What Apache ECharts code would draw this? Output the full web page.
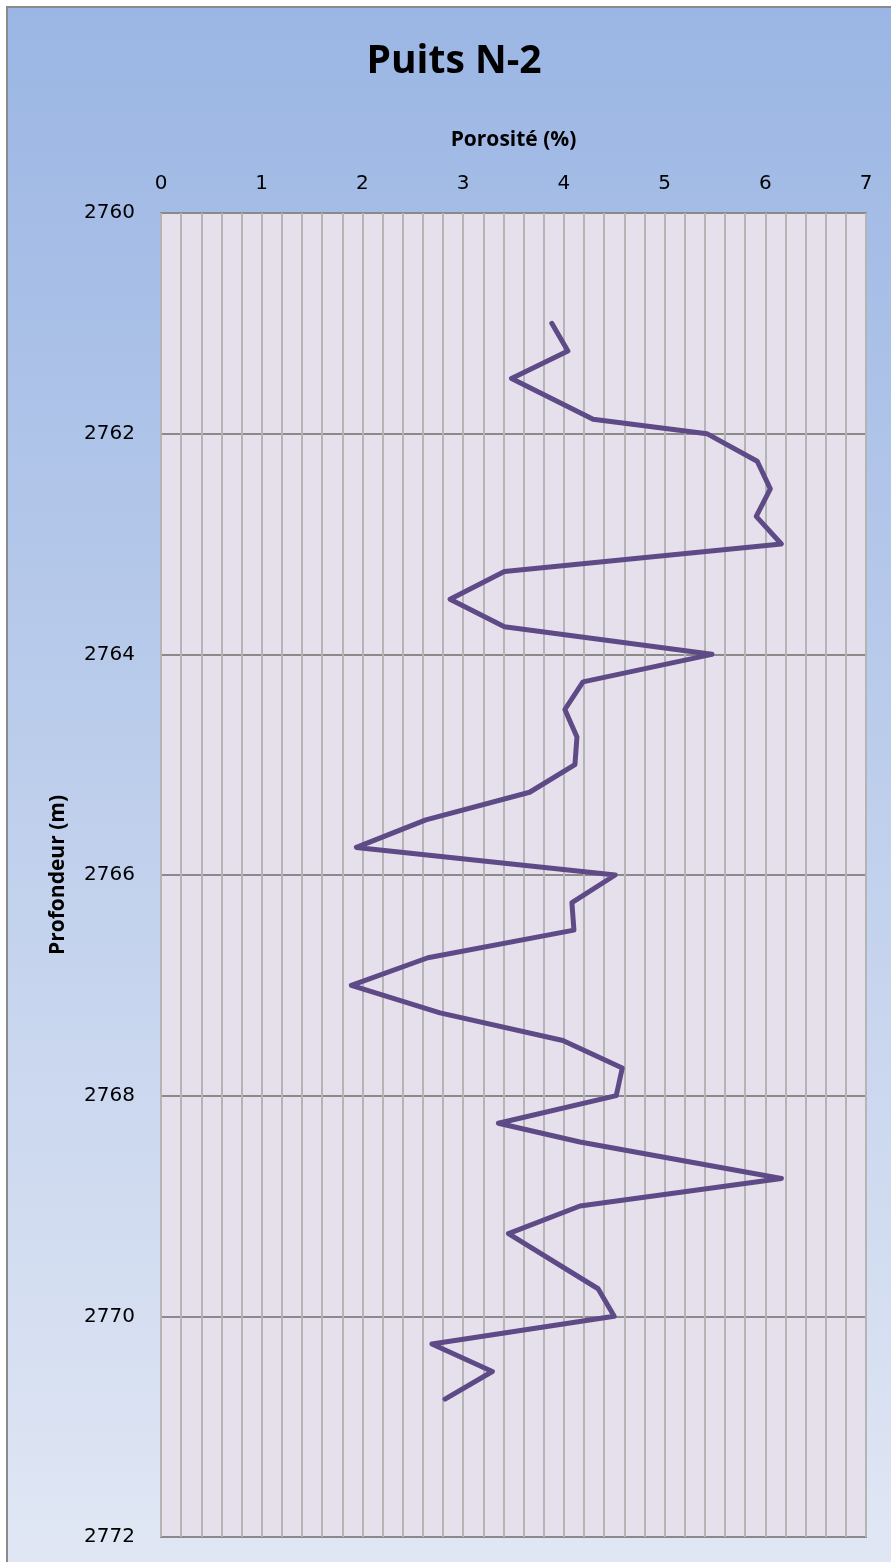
<!DOCTYPE html>
<html>
<head>
<meta charset="utf-8">
<script src="https://cdn.jsdelivr.net/npm/echarts@6/dist/echarts.min.js"></script>
<style>
html,body{margin:0;padding:0;background:#ffffff;}
#chart{width:891px;height:1562px;}
</style>
</head>
<body>
<div id="chart"></div>
<script>
// Data
const depthM = [2761, 2761.25, 2761.5, 2761.87, 2762, 2762.25, 2762.5, 2762.75, 2763, 2763.25, 2763.5, 2763.75, 2764, 2764.25, 2764.5, 2764.75, 2765, 2765.25, 2765.5, 2765.75, 2766, 2766.25, 2766.5, 2766.75, 2767, 2767.25, 2767.5, 2767.75, 2768, 2768.25, 2768.42, 2768.75, 2769, 2769.25, 2769.75, 2770, 2770.25, 2770.5, 2770.75];
const porosityPct = [3.88, 4.04, 3.48, 4.29, 5.42, 5.92, 6.05, 5.91, 6.16, 3.41, 2.87, 3.41, 5.47, 4.19, 4.01, 4.13, 4.11, 3.66, 2.63, 1.94, 4.51, 4.08, 4.10, 2.65, 1.89, 2.77, 3.99, 4.58, 4.52, 3.35, 4.16, 6.16, 4.16, 3.45, 4.34, 4.50, 2.69, 3.29, 2.82];
const xTicks = [0, 1, 2, 3, 4, 5, 6, 7];
const yTicks = [2760, 2762, 2764, 2766, 2768, 2770, 2772];
const titleText = 'Puits N-2';
const xName = 'Porosité (%)';
const yName = 'Profondeur (m)';

const seriesData = depthM.map((d, i) => [porosityPct[i], d]);

const chart = echarts.init(document.getElementById('chart'), null, {renderer: 'canvas'});
const option = {
  backgroundColor: '#ffffff',
  animation: false,
  graphic: [{
    type: 'rect',
    z: -10,
    silent: true,
    shape: {x: 7, y: 7, width: 900, height: 1570},
    style: {
      fill: new echarts.graphic.LinearGradient(0, 0, 0, 1, [
        {offset: 0, color: '#9bb6e4'},
        {offset: 1, color: '#e1e7f4'}
      ]),
      stroke: '#8a8a8a',
      lineWidth: 2
    }
  }],
  title: {
    text: titleText,
    left: 449,
    textAlign: 'center',
    top: 37,
    textStyle: {fontFamily: 'Open Sans', fontWeight: 'bold', fontSize: 39, color: '#000000'}
  },
  grid: {
    left: 161, right: 25, top: 213, bottom: 25,
    show: true,
    backgroundColor: '#e5e0ec',
    borderColor: '#8a8a8a',
    borderWidth: 2
  },
  xAxis: {
    type: 'value',
    position: 'top',
    min: xTicks[0],
    max: xTicks[xTicks.length - 1],
    interval: 1,
    name: xName,
    nameLocation: 'middle',
    nameGap: 62,
    nameTextStyle: {fontFamily: 'Open Sans', fontWeight: 'bold', fontSize: 21, color: '#000000'},
    axisLine: {show: false},
    axisTick: {show: false},
    axisLabel: {margin: 19, fontFamily: 'DejaVu Sans', fontSize: 20, color: '#000000'},
    splitLine: {show: true, lineStyle: {color: '#b4b4b4', width: 2}},
    minorTick: {show: false, splitNumber: 5},
    minorSplitLine: {show: true, lineStyle: {color: '#b4b4b4', width: 2}}
  },
  yAxis: {
    type: 'value',
    inverse: true,
    min: yTicks[0],
    max: yTicks[yTicks.length - 1],
    interval: 2,
    name: yName,
    nameLocation: 'middle',
    nameRotate: 90,
    nameGap: 92,
    nameTextStyle: {fontFamily: 'Open Sans', fontWeight: 'bold', fontSize: 21, color: '#000000'},
    axisLine: {show: false},
    axisTick: {show: false},
    axisLabel: {margin: 26, fontFamily: 'DejaVu Sans', fontSize: 20, color: '#000000', formatter: v => String(v)},
    splitLine: {show: true, lineStyle: {color: '#8a8a8a', width: 2}}
  },
  series: [{
    type: 'line',
    data: seriesData,
    showSymbol: false,
    symbol: 'none',
    lineStyle: {color: '#5e4a86', width: 5, cap: 'round', join: 'round'},
    z: 5
  }]
};
chart.setOption(option);
</script>
</body>
</html>
